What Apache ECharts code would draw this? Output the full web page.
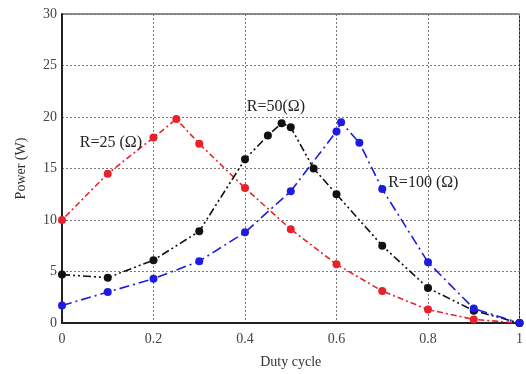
<!DOCTYPE html>
<html><head><meta charset="utf-8">
<script src="https://cdn.jsdelivr.net/npm/echarts@6/dist/echarts.min.js"></script>
<style>html,body{margin:0;padding:0;background:#fff}#c{width:526px;height:374px}</style>
</head><body><div id="c"></div>
<script>
const r25x = [0, 0.1, 0.2, 0.25, 0.3, 0.4, 0.5, 0.6, 0.7, 0.8, 0.9, 1];
const r25y = [10, 14.5, 18, 19.8, 17.4, 13.1, 9.1, 5.7, 3.1, 1.3, 0.35, 0];
const r50x = [0, 0.1, 0.2, 0.3, 0.4, 0.45, 0.48, 0.5, 0.55, 0.6, 0.7, 0.8, 0.9, 1];
const r50y = [4.7, 4.4, 6.1, 8.9, 15.9, 18.2, 19.4, 19.0, 15.0, 12.5, 7.5, 3.4, 1.2, 0];
const r100x = [0, 0.1, 0.2, 0.3, 0.4, 0.5, 0.6, 0.61, 0.65, 0.7, 0.8, 0.9, 1];
const r100y = [1.7, 3.0, 4.3, 6.0, 8.8, 12.8, 18.6, 19.5, 17.5, 13.0, 5.9, 1.4, 0];
const xTicks = [0, 0.2, 0.4, 0.6, 0.8, 1];
const yTicks = [0, 5, 10, 15, 20, 25, 30];
const labels = ['R=25 (Ω)', 'R=50(Ω)', 'R=100 (Ω)'];
const labelPos = [[0.039, 17.5], [0.404, 21.0], [0.713, 13.6]];

const zip = (xs, ys) => xs.map((x, i) => [x, ys[i]]);
const font = '"Liberation Serif", "DejaVu Serif", serif';
const chart = echarts.init(document.getElementById('c'));
function mk(name, xs, ys, color, dash, li) {
  return {
    type: 'line', name, data: zip(xs, ys), symbol: 'circle', symbolSize: 8,
    itemStyle: {color}, lineStyle: {color, width: 1.6, type: dash},
    animation: false, z: 3,
    markPoint: {
      symbol: 'circle', symbolSize: 0,
      data: [{coord: labelPos[li], value: labels[li]}],
      label: {show: true, formatter: labels[li], color: '#222', fontFamily: font, fontSize: 16, position: 'right', distance: 0}
    }
  };
}
chart.setOption({
  animation: false,
  grid: {left: 62, right: 4, top: 14, bottom: 51, show: true, borderColor: '#222', borderWidth: 1},
  xAxis: {
    type: 'value', min: 0, max: 1, interval: 0.2,
    name: 'Duty cycle', nameLocation: 'middle', nameGap: 32,
    nameTextStyle: {fontFamily: font, fontSize: 14, color: '#333'},
    axisLine: {show: true, lineStyle: {color: '#222', width: 2}},
    axisTick: {show: false},
    axisLabel: {fontFamily: font, fontSize: 14, color: '#444', margin: 9,
      formatter: v => xTicks.includes(+v.toFixed(1)) ? String(+v.toFixed(1)) : ''},
    splitLine: {show: true, lineStyle: {color: '#777', type: [2, 2], width: 1}}
  },
  yAxis: {
    type: 'value', min: 0, max: 30, interval: 5,
    name: 'Power (W)', nameLocation: 'middle', nameGap: 34,
    nameTextStyle: {fontFamily: font, fontSize: 14, color: '#333'},
    axisLine: {show: true, lineStyle: {color: '#222', width: 2}},
    axisTick: {show: false},
    axisLabel: {fontFamily: font, fontSize: 14, color: '#444', margin: 5,
      formatter: v => yTicks.includes(v) ? String(v) : ''},
    splitLine: {show: true, lineStyle: {color: '#777', type: [2, 2], width: 1}}
  },
  series: [
    mk('R=25', r25x, r25y, '#e8222a', [2, 3, 6, 3], 0),
    mk('R=50', r50x, r50y, '#111111', [8, 3, 2, 3, 2, 3], 1),
    mk('R=100', r100x, r100y, '#1c1ce0', [10, 4, 2, 4], 2)
  ]
});
</script></body></html>
